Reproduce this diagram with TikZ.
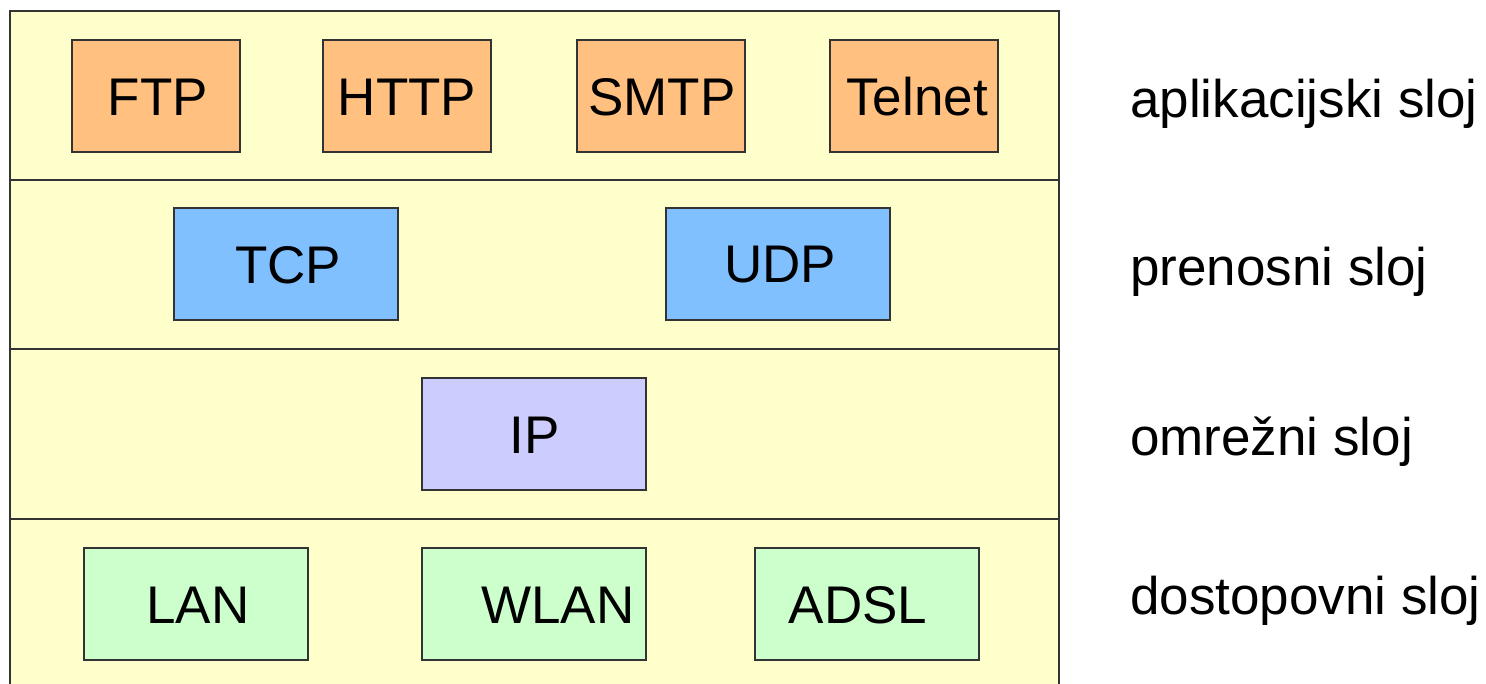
\documentclass[tikz,border=0pt]{standalone}
\usepackage{fontspec}
\setmainfont{Liberation Sans}
\definecolor{layerbg}{HTML}{FFFFCC}
\definecolor{appfill}{HTML}{FFC080}
\definecolor{trfill}{HTML}{80C0FF}
\definecolor{netfill}{HTML}{CCCCFF}
\definecolor{accfill}{HTML}{CCFFCC}
\definecolor{edge}{HTML}{333333}
\tikzset{
  proto/.style={draw=edge, line width=1.2pt, inner sep=0pt, minimum height=112pt},
  narrow/.style={proto, minimum width=168pt},
  wide/.style={proto, minimum width=224pt},
  ptext/.style={inner sep=0pt, font=\fontsize{53}{60}\selectfont},
  layername/.style={inner sep=0pt, anchor=base west, font=\fontsize{53}{60}\selectfont},
  divider/.style={draw=edge, line width=1.3pt}
}
\begin{document}
\begin{tikzpicture}[x=1pt, y=-1pt]
\useasboundingbox (0,0) rectangle (1486,684);
\fill[white] (0,0) rectangle (1486,684);
% layer background, open at the bottom
\fill[layerbg] (10,11) rectangle (1059,700);
\draw[divider] (10,700) -- (10,11) -- (1059,11) -- (1059,700);
\coordinate (l1w) at (10,180);  \coordinate (l1e) at (1059,180);
\coordinate (l2w) at (10,349);  \coordinate (l2e) at (1059,349);
\coordinate (l3w) at (10,519);  \coordinate (l3e) at (1059,519);
\draw[divider] (l1w) -- (l1e);
\draw[divider] (l2w) -- (l2e);
\draw[divider] (l3w) -- (l3e);

% application layer
\node[narrow, fill=appfill] (ftp) at (156,96) {};
\node[narrow, fill=appfill] (http) at (407,96) {};
\node[narrow, fill=appfill] (smtp) at (661,96) {};
\node[narrow, fill=appfill] (telnet) at (914,96) {};
\node[ptext] (ftpt) at (158,97) {FTP};
\node[ptext] (httpt) at (407,97) {HTTP};
\node[ptext] (smtpt) at (662,97) {SMTP};
\node[ptext] (telnett) at (917,97) {Telnet};

% transport layer
\node[wide, fill=trfill] (tcp) at (286,264) {};
\node[wide, fill=trfill] (udp) at (778,264) {};
\node[ptext] (tcpt) at (288,265) {TCP};
\node[ptext] (udpt) at (780,265) {UDP};

% network layer
\node[wide, fill=netfill] (ip) at (534,434) {};
\node[ptext] (ipt) at (535,435) {IP};

% access layer
\node[wide, fill=accfill] (lan) at (196,604) {};
\node[wide, fill=accfill] (wlan) at (534,604) {};
\node[wide, fill=accfill] (adsl) at (867,604) {};
\node[ptext] (lant) at (198,605) {LAN};
\node[ptext] (wlant) at (558,605) {WLAN};
\node[ptext] (adslt) at (858,605) {ADSL};

% layer names
\node[layername] (n1) at (1130,118) {aplikacijski sloj};
\node[layername] (n2) at (1130,286) {prenosni sloj};
\node[layername] (n3) at (1130,455) {omrežni sloj};
\node[layername] (n4) at (1130,614) {dostopovni sloj};
\end{tikzpicture}
\end{document}
